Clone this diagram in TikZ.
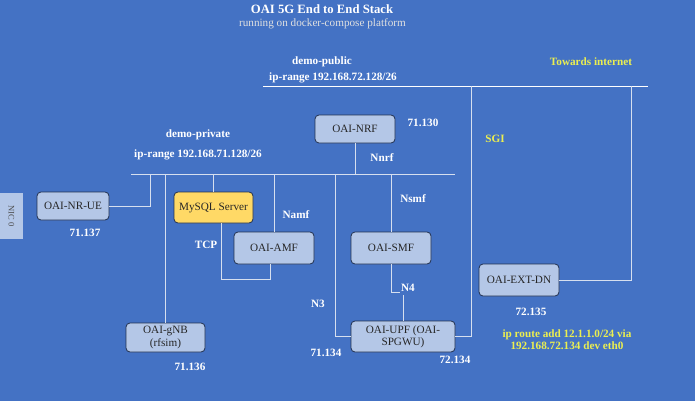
\documentclass[tikz,border=0pt]{standalone}
\usepackage{fontspec}
\setmainfont{Liberation Serif}
\usepackage{tikz}

\definecolor{bgblue}{HTML}{4472C4}
\definecolor{nffill}{HTML}{B4C7E7}
\definecolor{nfline}{HTML}{22314F}
\definecolor{wire}{HTML}{D6DFEF}
\definecolor{sqlfill}{HTML}{FFD966}
\definecolor{hint}{HTML}{ECEF50}

\tikzset{
  nf/.style={draw=nfline, fill=nffill, rounded corners=4pt, line width=0.8pt,
    minimum width=80pt, minimum height=31pt, inner sep=1pt, align=center,
    text=black!85, font=\fontsize{11.2}{12.2}\selectfont},
  lbl/.style={text=white, font=\bfseries\fontsize{11.2}{12.5}\selectfont, align=center},
  hintlbl/.style={lbl, text=hint},
  wire/.style={draw=wire, line width=0.8pt},
}

\begin{document}
\begin{tikzpicture}[x=1pt, y=-1pt]

  \fill[bgblue] (0,0) rectangle (695,401);
  \useasboundingbox (0,0) rectangle (695,401);

  % title
  \node[lbl, font=\bfseries\fontsize{12.7}{14}\selectfont] (title) at (322,9) {OAI 5G End to End Stack};
  \node[text=white!88!black, font=\fontsize{11.2}{12}\selectfont] (subtitle) at (322.5,24) {running on docker-compose platform};

  % networks
  \coordinate (pub0) at (263,86);
  \coordinate (pub1) at (648,86);
  \coordinate (sgi) at (471,86);
  \coordinate (inet) at (631,86);
  \coordinate (priv0) at (131,174);
  \coordinate (priv1) at (455,174);
  \coordinate (tapue) at (150,174);
  \coordinate (tapn3) at (335,174);
  \coordinate (tcpturn) at (270,279);
  \coordinate (n4a) at (400,292);
  \coordinate (n4b) at (403,295);

  \node[lbl] (pubname) at (322,62) {demo-public};
  \node[lbl] (pubrange) at (333,78) {ip-range 192.168.72.128/26};
  \node[hintlbl] (towards) at (591,62) {Towards internet};
  \node[lbl] (privname) at (198,135) {demo-private};
  \node[lbl] (privrange) at (198,155) {ip-range 192.168.71.128/26};

  \draw[wire, draw=white] (pub0) -- (pub1);
  \draw[wire] (priv0) -- (priv1);

  % functions
  \node[nf, minimum width=23pt, minimum height=46pt, draw=none, rounded corners=0pt] (nic) at (11.5,216) {};
  \node[rotate=-90, text=black!70, font=\fontsize{8.5}{10}\selectfont] (nictext) at (nic) {NIC 0};
  \node[nf, minimum width=72pt, minimum height=28pt] (ue) at (73,206) {OAI-NR-UE};
  \node[nf, minimum height=28pt] (nrf) at (355,129) {OAI-NRF};
  \node[nf, fill=sqlfill, minimum width=79pt] (sql) at (213.5,207.5) {MySQL Server};
  \node[nf, minimum height=32pt] (amf) at (274,248) {OAI-AMF};
  \node[nf, minimum height=32pt] (smf) at (391,248) {OAI-SMF};
  \node[nf, minimum width=104pt] (upf) at (403,336.5) {OAI-UPF (OAI-\\SPGWU)};
  \node[nf, minimum height=32pt] (extdn) at (519,280) {OAI-EXT-DN};
  \node[nf, minimum width=79pt, minimum height=29pt] (gnb) at (165.5,337.5) {OAI-gNB\\(rfsim)};

  % links
  \draw[wire] (ue.east) -| (tapue); % UE -> private
  \draw[wire] (gnb.north) -- (gnb.north |- priv0); % gNB -> private
  \draw[wire] (sql.north) -- (sql.north |- priv0); % MySQL -> private
  \draw[wire] (amf.north) -- (amf.north |- priv0); % AMF -> private
  \draw[wire] (smf.north) -- (smf.north |- priv0); % SMF -> private
  \draw[wire] (nrf.south) -- (nrf.south |- priv0); % NRF -> private
  \draw[wire] (upf.west) -| (tapn3); % UPF -> private
  \draw[wire] ([xshift=8pt]sql.south) |- (tcpturn) -- (tcpturn |- amf.south); % MySQL <-> AMF
  \draw[wire] (smf.south) |- (n4a); % SMF -> N4
  \draw[wire] (upf.north) -- (n4b); % UPF -> N4
  \draw[wire] (upf.east) -| (sgi); % UPF -> public
  \draw[wire] (extdn.east) -| (inet); % EXT-DN -> public

  % labels
  \node[lbl] (nrfip) at (423,123) {71.130};
  \node[lbl] (nnrf) at (382,158) {Nnrf};
  \node[hintlbl] (sgilbl) at (495,139) {SGI};
  \node[lbl] (namf) at (296,215) {Namf};
  \node[lbl] (nsmf) at (413,199) {Nsmf};
  \node[lbl] (tcp) at (206,245) {TCP};
  \node[lbl] (n3) at (318,304) {N3};
  \node[lbl, inner sep=0pt] (n4) at (408,288) {N4};
  \node[lbl] (ueip) at (85,233) {71.137};
  \node[lbl] (gnbip) at (190,367) {71.136};
  \node[lbl] (upfip1) at (326,353) {71.134};
  \node[lbl] (upfip2) at (455,360) {72.134};
  \node[lbl] (extip) at (531,312) {72.135};
  \node[hintlbl, font=\bfseries\fontsize{11.2}{11.8}\selectfont] (route) at (567,340) {ip route add 12.1.1.0/24 via\\192.168.72.134 dev eth0};

\end{tikzpicture}
\end{document}
